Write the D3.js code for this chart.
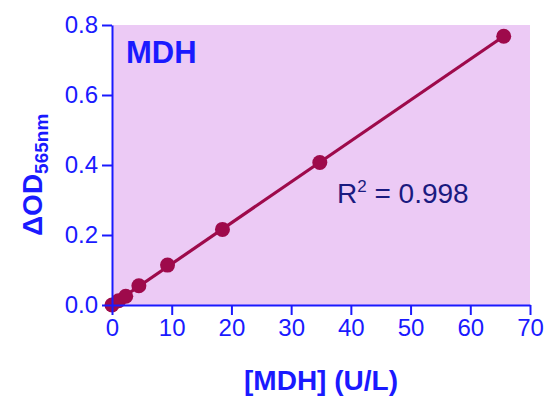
<!doctype html>
<html>
<head>
    <script src="https://d3js.org/d3.v7.min.js"></script>
</head>
<style>
    body { margin: 0; background: white; }
    svg text { font-family: "Liberation Sans", Arial, sans-serif; }
</style>
<body>
<script>
    // MDH standard curve
    var mdh = [0, 1.1, 2.3, 4.5, 9.3, 18.5, 34.8, 65.6];
    var od = [0, 0.012, 0.025, 0.055, 0.114, 0.216, 0.407, 0.768];
    var xTicks = [0, 10, 20, 30, 40, 50, 60, 70];
    var yTicks = [0, 0.2, 0.4, 0.6, 0.8];

    var width = 547, height = 396;
    var blue = "#1a1aff", wine = "#9e0a4b";

    var svg = d3.select("body").append("svg")
        .attr("width", width)
        .attr("height", height);

    var x = d3.scaleLinear().domain([0, 70]).range([112, 530]);
    var y = d3.scaleLinear().domain([0, 0.8]).range([305, 25]);

    // plot background
    svg.append("rect")
        .attr("x", x(0)).attr("y", y(0.8))
        .attr("width", x(70) - x(0))
        .attr("height", y(0) - y(0.8))
        .attr("fill", "#eccaf5");

    // least squares fit through the points
    var n = mdh.length,
        mx = d3.mean(mdh), my = d3.mean(od);
    var sxy = d3.sum(mdh, function(d, i) { return (d - mx) * (od[i] - my); });
    var sxx = d3.sum(mdh, function(d) { return (d - mx) * (d - mx); });
    var slope = sxy / sxx, icpt = my - slope * mx;
    var x0 = mdh[0], x1 = mdh[n - 1];

    svg.append("line")
        .attr("x1", x(x0)).attr("y1", y(icpt + slope * x0))
        .attr("x2", x(x1)).attr("y2", y(icpt + slope * x1))
        .attr("stroke", wine)
        .attr("stroke-width", 3.2);

    svg.selectAll("circle.pt")
        .data(mdh)
        .enter().append("circle")
        .attr("class", "pt")
        .attr("cx", function(d) { return x(d); })
        .attr("cy", function(d, i) { return y(od[i]); })
        .attr("r", 7.5)
        .attr("fill", wine);

    // axes
    var xAxis = svg.append("g")
        .attr("transform", "translate(0," + y(0) + ")")
        .call(d3.axisBottom(x).tickValues(xTicks).tickSize(10).tickSizeOuter(0).tickPadding(4));
    var yAxis = svg.append("g")
        .attr("transform", "translate(" + x(0) + ",0)")
        .call(d3.axisLeft(y).tickValues(yTicks).tickSize(10).tickSizeOuter(0).tickPadding(4)
              .tickFormat(d3.format(".1f")));

    [xAxis, yAxis].forEach(function(a) {
        a.selectAll("path, line").attr("stroke", blue).attr("stroke-width", 2);
        a.selectAll("text")
            .attr("fill", blue)
            .style("font-size", "24px")
            .style("font-family", "'Liberation Sans', Arial, sans-serif");
    });

    // axis titles
    svg.append("text")
        .attr("x", 321).attr("y", 390)
        .attr("text-anchor", "middle")
        .attr("fill", blue)
        .style("font-size", "28px")
        .style("font-weight", "bold")
        .text("[MDH] (U/L)");

    var yl = svg.append("text")
        .attr("transform", "translate(42,236) rotate(-90)")
        .attr("fill", blue)
        .style("font-size", "28px")
        .style("font-weight", "bold");
    yl.append("tspan").text("ΔOD");
    yl.append("tspan").attr("dy", 6).style("font-size", "19px").text("565nm");

    // panel label
    svg.append("text")
        .attr("x", 126).attr("y", 63)
        .attr("fill", blue)
        .style("font-size", "31px")
        .style("font-weight", "bold")
        .text("MDH");

    var r2 = svg.append("text")
        .attr("x", 337).attr("y", 203)
        .attr("fill", "#1a1a80")
        .style("font-size", "28px");
    r2.append("tspan").text("R");
    r2.append("tspan").attr("dy", -11).style("font-size", "17px").text("2");
    r2.append("tspan").attr("dy", 11).text(" = 0.998");
</script>
</body>
</html>
